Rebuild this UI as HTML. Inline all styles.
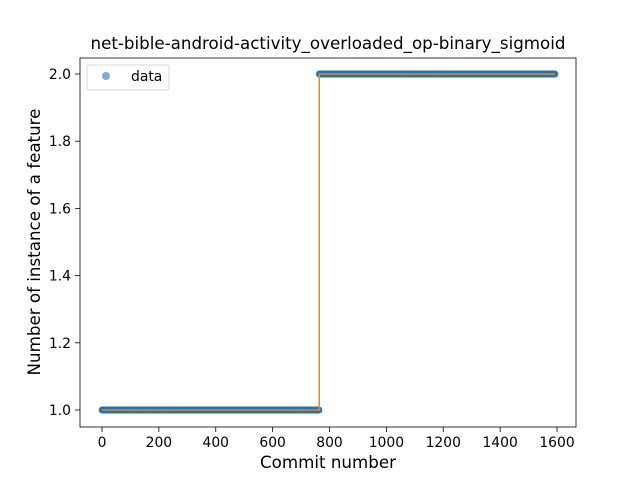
<!DOCTYPE html>
<html><head><meta charset="utf-8"><style>
body{margin:0;background:#fff;}
svg{display:block;font-family:"DejaVu Sans","Liberation Sans",sans-serif;}
</style></head><body>
<svg id="chart" width="640" height="480" viewBox="0 0 640 480">
<rect x="0" y="0" width="640" height="480" fill="#fff"/>
<text x="328" y="49" text-anchor="middle" font-size="16.7" fill="#000">net-bible-android-activity_overloaded_op-binary_sigmoid</text>
<g id="marks"></g>
<rect x="80" y="58" width="496" height="369" fill="none" stroke="#000" stroke-width="0.8"/>
<g id="xticks"></g>
<g id="yticks"></g>
<text x="328" y="468" text-anchor="middle" font-size="16.7">Commit number</text>
<text transform="translate(40,242) rotate(-90)" text-anchor="middle" font-size="16.7">Number of instance of a feature</text>
<g>
<rect x="87" y="65" width="82" height="25" rx="2" fill="#fff" stroke="#ccc" stroke-width="0.8"/>
<circle cx="106" cy="76" r="4" fill="#1f77b4" fill-opacity="0.6"/>
<text x="131" y="81" font-size="13.9">data</text>
</g>
</svg>
<script>
// run-length data: value and number of commits at that value
const runValues = [1, 2];
const runLengths = [764, 830];
const xTicks = [0, 200, 400, 600, 800, 1000, 1200, 1400, 1600];
const yTicks = [1.0, 1.2, 1.4, 1.6, 1.8, 2.0];

const NS = "http://www.w3.org/2000/svg";
const xs = v => 102 + v * (557 - 102) / 1600;
const ys = v => 410 - (v - 1) * (410 - 74);

const marks = document.getElementById('marks');
const series = [];
runValues.forEach((v, i) => { for (let k = 0; k < runLengths[i]; k++) series.push(v); });

const pts = document.createElementNS(NS, 'g');


series.forEach((v, i) => {
  const c = document.createElementNS(NS, 'circle');
  c.setAttribute('cx', xs(i)); c.setAttribute('cy', ys(v)); c.setAttribute('r', 3.5);
  c.setAttribute('fill', '#1f77b4'); c.setAttribute('fill-opacity', '0.6');
  
  
  pts.appendChild(c);
});
marks.appendChild(pts);

let d = '';
series.forEach((v, i) => {
  if (i === 0) d += 'M' + xs(i) + ',' + ys(v);
  else { d += 'L' + xs(i) + ',' + ys(series[i - 1]) + 'L' + xs(i) + ',' + ys(v); }
});
const line = document.createElementNS(NS, 'path');
line.setAttribute('d', d); line.setAttribute('fill', 'none');
line.setAttribute('stroke', '#ff7f0e'); line.setAttribute('stroke-width', '1.5');


marks.appendChild(line);

const xg = document.getElementById('xticks');
xTicks.forEach(t => {
  const l = document.createElementNS(NS, 'line');
  l.setAttribute('x1', xs(t)); l.setAttribute('x2', xs(t)); l.setAttribute('y1', 427); l.setAttribute('y2', 432);
  l.setAttribute('stroke', '#000'); l.setAttribute('stroke-width', '0.8');
  
  
  xg.appendChild(l);
  const tx = document.createElementNS(NS, 'text');
  tx.setAttribute('x', xs(t)); tx.setAttribute('y', 447); tx.setAttribute('text-anchor', 'middle'); tx.setAttribute('font-size', '13.9');
  tx.textContent = t;
  
  
  xg.appendChild(tx);
});
const yg = document.getElementById('yticks');
yTicks.forEach(t => {
  const l = document.createElementNS(NS, 'line');
  l.setAttribute('x1', 75); l.setAttribute('x2', 80); l.setAttribute('y1', ys(t)); l.setAttribute('y2', ys(t));
  l.setAttribute('stroke', '#000'); l.setAttribute('stroke-width', '0.8');
  
  
  yg.appendChild(l);
  const tx = document.createElementNS(NS, 'text');
  tx.setAttribute('x', 71); tx.setAttribute('y', ys(t) + 5); tx.setAttribute('text-anchor', 'end'); tx.setAttribute('font-size', '13.9');
  tx.textContent = t.toFixed(1);
  
  
  yg.appendChild(tx);
});
</script>
</body></html>
